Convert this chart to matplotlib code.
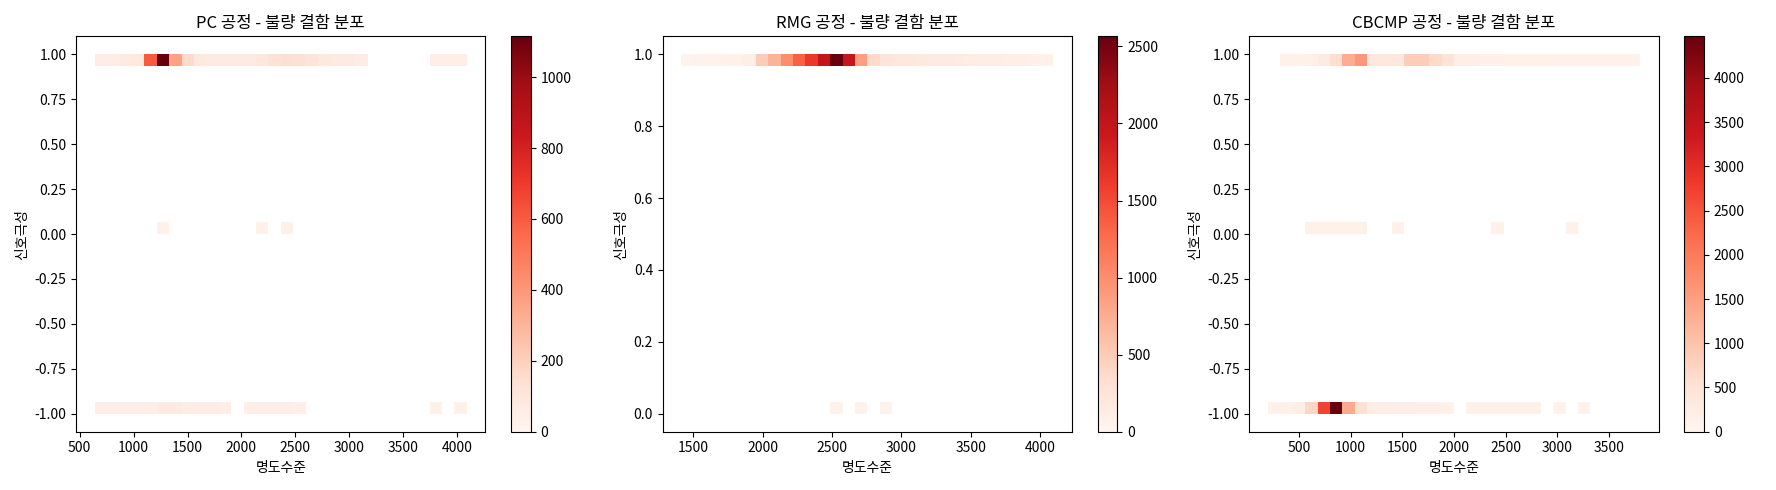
import numpy as np
import matplotlib as mpl
mpl.use('Agg')
import matplotlib.pyplot as plt

plt.rcParams['font.family'] = ['Noto Sans CJK KR', 'DejaVu Sans']
plt.rcParams['axes.unicode_minus'] = False

N_BINS = 30

# PC 공정: 명도수준 범위, 신호극성별 구간 카운트 (30 bins)
pc_range = (640, 4090)
pc_pos = [60, 60, 70, 80, 600, 1115, 370, 160, 80, 75, 70, 70, 75, 85, 130,
          140, 135, 120, 80, 75, 70, 65, 0, 0, 0, 0, 0, 50, 50, 50]
pc_zero = [0, 0, 0, 0, 0, 30, 0, 0, 0, 0, 0, 0, 0, 35, 0,
           35, 0, 0, 0, 0, 0, 0, 0, 0, 0, 0, 0, 0, 0, 0]
pc_neg = [45, 45, 45, 45, 50, 70, 70, 65, 60, 55, 50, 0, 45, 45, 45,
          45, 40, 0, 0, 0, 0, 0, 0, 0, 0, 0, 0, 30, 0, 35]

# RMG 공정 (신호극성 0 ~ 1)
rmg_range = (1415, 4095)
rmg_pos = [40, 45, 50, 60, 90, 110, 500, 700, 1000, 1350, 1630, 2000, 2565, 1980, 870,
           380, 250, 220, 200, 190, 180, 170, 160, 150, 140, 130, 120, 110, 100, 90]
rmg_zero = [0, 0, 0, 0, 0, 0, 0, 0, 0, 0, 0, 0, 45, 0, 45,
            0, 45, 0, 0, 0, 0, 0, 0, 0, 0, 0, 0, 0, 0, 0]

# CBCMP 공정
cb_range = (200, 3800)
cb_pos = [0, 150, 150, 170, 300, 600, 1300, 1600, 400, 380, 380, 850, 850, 650, 500,
          200, 180, 170, 160, 150, 150, 140, 140, 130, 130, 120, 120, 110, 110, 100]
cb_zero = [0, 0, 0, 150, 150, 150, 150, 150, 0, 0, 120, 0, 0, 0, 0,
           0, 0, 0, 120, 0, 0, 0, 0, 0, 120, 0, 0, 0, 0, 0]
cb_neg = [150, 150, 200, 700, 2700, 4470, 1350, 550, 200, 200, 190, 180, 170, 160, 150,
          0, 150, 150, 150, 150, 150, 140, 0, 100, 0, 80, 0, 0, 0, 0]

panels = [
    ('PC', pc_range, (-1, 1), {1: pc_pos, 0: pc_zero, -1: pc_neg}),
    ('RMG', rmg_range, (0, 1), {1: rmg_pos, 0: rmg_zero}),
    ('CBCMP', cb_range, (-1, 1), {1: cb_pos, 0: cb_zero, -1: cb_neg}),
]

fig, axes = plt.subplots(1, 3, figsize=(17.76, 4.9), dpi=100)

for ax, (name, xr, yr, rows) in zip(axes, panels):
    xedges = np.linspace(xr[0], xr[1], N_BINS + 1)
    yedges = np.linspace(yr[0], yr[1], N_BINS + 1)
    H = np.zeros((N_BINS, N_BINS))
    for pol, counts in rows.items():
        r = min(int(round((pol - yr[0]) / (yr[1] - yr[0]) * N_BINS)), N_BINS - 1)
        H[r, :] = counts
    mesh = ax.pcolormesh(xedges, yedges, np.ma.masked_equal(H, 0),
                         cmap='Reds', vmin=0)
    # keep the default 5% margins around the mesh
    mesh.sticky_edges.x[:] = []
    mesh.sticky_edges.y[:] = []
    ax.autoscale_view()
    fig.colorbar(mesh, ax=ax)
    ax.set_title(f'{name} 공정 - 불량 결함 분포')
    ax.set_xlabel('명도수준')
    ax.set_ylabel('신호극성')

fig.tight_layout()
fig.savefig('out.png', dpi=100)
